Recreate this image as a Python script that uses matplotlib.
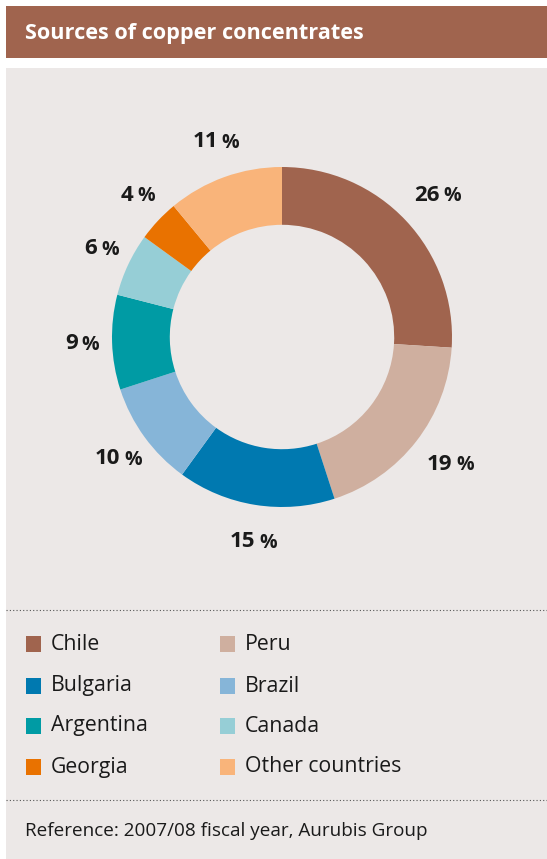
import numpy as np
import matplotlib.pyplot as plt
from matplotlib.patches import Rectangle

# data
countries = ["Chile", "Peru", "Bulgaria", "Brazil", "Argentina", "Canada", "Georgia", "Other countries"]
shares = [26, 19, 15, 10, 9, 6, 4, 11]
colors = ["#A0644E", "#CFAF9F", "#0079B0", "#86B5D8", "#009BA4", "#96CED6", "#E97200", "#F9B47A"]
legend_order = ["Chile", "Peru", "Bulgaria", "Brazil", "Argentina", "Canada", "Georgia", "Other countries"]

W, H = 547, 859
BG = "#ECE8E7"
INK = "#1a1a1a"
FONT = ["Open Sans", "DejaVu Sans"]

fig = plt.figure(figsize=(W / 100, H / 100), dpi=100)
fig.patch.set_facecolor("white")

# full-figure pixel axes for the frame
base = fig.add_axes([0, 0, 1, 1])
base.set_xlim(0, W)
base.set_ylim(H, 0)
base.axis("off")

base.add_patch(Rectangle((6, 6), W - 6, 52, color="#A0644E", lw=0))
base.text(25, 33, "Sources of copper concentrates", color="white", fontsize=15.6,
          fontweight="bold", va="center", ha="left", family=FONT)
base.add_patch(Rectangle((6, 68), W - 6, H - 68, color=BG, lw=0))

for y in (610, 800):
    base.plot([6, W], [y, y], ls=(0, (1, 2)), color="#555555", lw=0.8)

# legend
rows_y = [644, 686, 726, 767]
col_x = [26, 220]
for i, name in enumerate(legend_order):
    c = colors[countries.index(name)]
    x = col_x[i % 2]
    y = rows_y[i // 2]
    base.add_patch(Rectangle((x, y - 8), 15, 16, color=c, lw=0))
    base.text(x + 25, y, name, fontsize=15.3, va="center", ha="left", color=INK, family=FONT)

base.text(25, 831, "Reference: 2007/08 fiscal year, Aurubis Group", fontsize=13.6,
          va="center", ha="left", color=INK, family=FONT)

# donut
cx, cy, r = 282, 337, 170
pax = fig.add_axes([(cx - r) / W, (H - cy - r) / H, 2 * r / W, 2 * r / H])
pax.set_facecolor("none")
wedges, _ = pax.pie(shares, colors=colors, startangle=90, counterclock=False,
                    radius=1, wedgeprops=dict(width=0.34, linewidth=0))
pax.set_xlim(-1, 1)
pax.set_ylim(-1, 1)
pax.set_aspect("equal")
pax.axis("off")

for w, v in zip(wedges, shares):
    ang = np.deg2rad((w.theta1 + w.theta2) / 2)
    lx, ly = 1.22 * np.cos(ang), 1.22 * np.sin(ang)
    shift = 8 if v >= 10 else 5
    pax.annotate(str(v), (lx, ly), xytext=(shift - 2, 0), textcoords="offset pixels",
                 fontsize=16, fontweight="bold", ha="right", va="center",
                 color=INK, family=FONT, annotation_clip=False)
    pax.annotate("%", (lx, ly), xytext=(shift + 2, -1), textcoords="offset pixels",
                 fontsize=14, fontweight="bold", ha="left", va="center",
                 color=INK, family=FONT, annotation_clip=False)

fig.savefig("out.png", dpi=100, facecolor=fig.get_facecolor())
